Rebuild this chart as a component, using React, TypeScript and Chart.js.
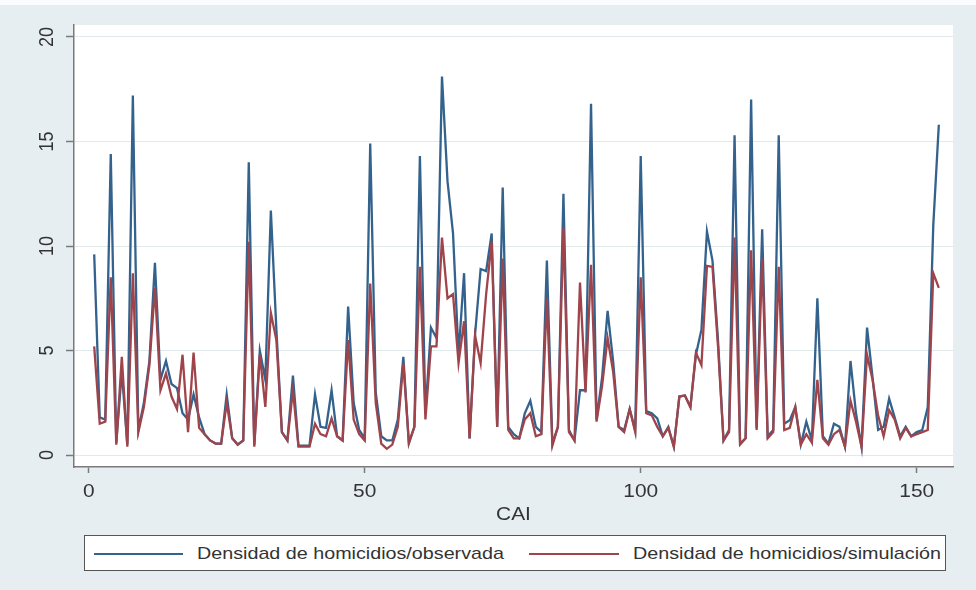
import React, { useEffect, useRef } from "react";
import { Chart, registerables } from "chart.js";

Chart.register(...registerables);

// CAI index (categories)
const caiIds: number[] = Array.from({ length: 154 }, (_, i) => i + 1);

const observada: number[] = [
  9.6, 1.8, 1.7, 14.4, 0.6, 4.0, 0.5, 17.2, 1.2, 2.5,
  4.5, 9.2, 3.6, 4.5, 3.4, 3.2, 2.0, 1.7, 2.9, 1.8,
  1.0, 0.7, 0.55, 0.55, 2.9, 0.8, 0.5, 0.7, 14.0, 0.5,
  5.0, 3.6, 11.7, 6.0, 1.1, 0.7, 3.8, 0.45, 0.45, 0.45,
  2.9, 1.35, 1.3, 3.1, 0.9, 0.7, 7.1, 2.5, 1.2, 0.8,
  14.9, 3.0, 0.9, 0.7, 0.7, 1.7, 4.7, 0.55, 1.35, 14.3,
  2.0, 6.1, 5.6, 18.1, 13.1, 10.6, 4.8, 8.7, 0.8, 5.8,
  8.9, 8.8, 10.6, 1.35, 12.8, 1.35, 1.0, 0.8, 2.0, 2.6,
  1.35, 1.1, 9.3, 0.55, 1.35, 12.5, 1.2, 0.7, 3.1, 3.1,
  16.8, 1.7, 3.7, 6.9, 4.5, 1.35, 1.2, 2.2, 1.2, 14.3,
  2.1, 2.0, 1.75, 0.9, 1.35, 0.4, 2.8, 2.85, 2.3, 4.8,
  6.0, 10.7, 9.3, 5.5, 0.7, 1.2, 15.3, 0.55, 0.8, 17.0,
  1.3, 10.8, 0.9, 1.2, 15.3, 1.5, 1.67, 2.3, 0.5, 1.6,
  0.7, 7.5, 0.9, 0.55, 1.5, 1.35, 0.4, 4.5, 2.0, 0.4,
  6.1, 3.7, 1.2, 1.35, 2.7, 1.8, 0.9, 1.35, 0.9, 1.1,
  1.2, 2.3, 11.0, 15.8,
];

const simulacion: number[] = [
  5.2, 1.5, 1.6, 8.5, 0.5, 4.7, 0.4, 8.7, 1.1, 2.3,
  4.3, 8.0, 3.1, 3.9, 2.8, 2.2, 4.8, 1.1, 4.9, 1.3,
  1.0, 0.7, 0.55, 0.55, 2.5, 0.8, 0.5, 0.7, 10.2, 0.4,
  4.8, 2.3, 6.8, 5.5, 1.1, 0.7, 3.1, 0.4, 0.4, 0.4,
  1.5, 1.0, 0.9, 1.75, 0.9, 0.7, 5.5, 1.7, 1.0, 0.7,
  8.2, 2.5, 0.55, 0.3, 0.5, 1.35, 4.4, 0.6, 1.35, 9.0,
  1.7, 5.2, 5.2, 10.4, 7.5, 7.7, 4.4, 6.4, 0.8, 5.7,
  4.4, 7.7, 10.2, 1.35, 9.4, 1.2, 0.8, 0.8, 1.7, 2.0,
  0.9, 1.0, 7.5, 0.45, 1.35, 10.9, 1.1, 0.7, 8.25, 3.0,
  9.1, 1.6, 3.3, 5.6, 4.0, 1.35, 1.1, 2.2, 1.1, 8.5,
  2.0, 1.9, 1.35, 0.9, 1.3, 0.4, 2.8, 2.85, 2.3, 4.9,
  4.3, 9.05, 9.0, 5.2, 0.7, 1.1, 10.4, 0.5, 0.8, 9.8,
  1.2, 9.4, 0.8, 1.1, 9.0, 1.2, 1.3, 2.3, 0.5, 1.0,
  0.6, 3.6, 0.8, 0.5, 1.0, 1.2, 0.4, 2.6, 1.6, 0.4,
  4.8, 3.6, 1.9, 0.9, 2.15, 1.7, 0.8, 1.3, 0.9, 1.0,
  1.1, 1.2, 8.7, 8.0,
];

const xTicks: number[] = [0, 50, 100, 150];
const yTicks: number[] = [0, 5, 10, 15, 20];
const xTitle = "CAI";
const seriesLabels: string[] = [
  "Densidad de homicidios/observada",
  "Densidad de homicidios/simulación",
];

const BLUE = "#33628c";
const RED = "#a0444b";
const BG = "#e7eef2";
const AXIS = "#7a7a7a";
const TEXT = "#333333";
const FONT = "'Liberation Sans', Arial, sans-serif";
const STRETCH = 1.16;

const bgPlugin = {
  id: "plotBg",
  beforeDraw(chart: any) {
    const { ctx, chartArea } = chart;
    ctx.save();
    ctx.fillStyle = "#ffffff";
    ctx.fillRect(chartArea.left, chartArea.top, chartArea.right - chartArea.left, chartArea.bottom - chartArea.top);
    ctx.restore();
  },
};

const textPlugin = {
  id: "axisText",
  afterDraw(chart: any) {
    const { ctx, scales, chartArea } = chart;
    ctx.save();
    ctx.fillStyle = TEXT;
    ctx.font = `18px ${FONT}`;
    ctx.textAlign = "center";
    ctx.textBaseline = "middle";
    yTicks.forEach((v) => {
      const py = scales.y.getPixelForValue(v);
      ctx.save();
      ctx.translate(chartArea.left - 27, py);
      ctx.scale(STRETCH, 1);
      ctx.rotate(-Math.PI / 2);
      ctx.fillText(String(v), 0, 0);
      ctx.restore();
    });
    xTicks.forEach((v) => {
      const px = scales.x.getPixelForValue(v);
      ctx.save();
      ctx.translate(px, chartArea.bottom + 25);
      ctx.scale(STRETCH, 1);
      ctx.fillText(String(v), 0, 0);
      ctx.restore();
    });
    ctx.save();
    ctx.translate((chartArea.left + chartArea.right) / 2, chartArea.bottom + 48);
    ctx.scale(STRETCH, 1);
    ctx.fillText(xTitle, 0, 0);
    ctx.restore();
    ctx.restore();
  },
};

export default function App() {
  const ref = useRef<HTMLCanvasElement>(null);

  useEffect(() => {
    const canvas = ref.current;
    if (!canvas) return;
    const chart = new Chart(canvas, {
      type: "line",
      data: {
        datasets: [
          {
            label: seriesLabels[0],
            data: caiIds.map((x, i) => ({ x, y: observada[i] })),
            borderColor: BLUE,
            backgroundColor: BLUE,
            borderWidth: 2.3,
            pointRadius: 0,
            tension: 0,
            order: 1,
          },
          {
            label: seriesLabels[1],
            data: caiIds.map((x, i) => ({ x, y: simulacion[i] })),
            borderColor: RED,
            backgroundColor: RED,
            borderWidth: 2.3,
            pointRadius: 0,
            tension: 0,
            order: 0,
          },
        ],
      },
      options: {
        responsive: false,
        animation: false,
        devicePixelRatio: 1,
        layout: { padding: { left: 0, right: 23, top: 25, bottom: 63 } },
        plugins: { legend: { display: false }, tooltip: { enabled: false } },
        scales: {
          x: {
            type: "linear",
            min: -2.66,
            max: 156.57,
            afterBuildTicks: (s: any) => {
              s.ticks = xTicks.map((v) => ({ value: v }));
            },
            afterFit: (s: any) => {
              s.height = 60;
            },
            ticks: { display: false },
            grid: {
              drawOnChartArea: false,
              drawTicks: true,
              tickLength: 6,
              tickColor: AXIS,
              tickWidth: 1.5,
            },
            border: { display: true, color: AXIS, width: 1.5 },
          },
          y: {
            type: "linear",
            min: -0.57,
            max: 20.57,
            afterBuildTicks: (s: any) => {
              s.ticks = yTicks.map((v) => ({ value: v }));
            },
            afterFit: (s: any) => {
              s.width = 74;
            },
            ticks: { display: false },
            grid: {
              drawOnChartArea: true,
              color: "#e1e9ed",
              lineWidth: 1,
              drawTicks: true,
              tickLength: 8,
              tickColor: AXIS,
              tickWidth: 1.5,
            },
            border: { display: true, color: AXIS, width: 1.5 },
          },
        },
      },
      plugins: [bgPlugin, textPlugin],
    } as any);
    return () => chart.destroy();
  }, []);

  const legendText: React.CSSProperties = {
    position: "absolute",
    top: 0,
    height: 37,
    lineHeight: "37px",
    fontFamily: FONT,
    fontSize: 17,
    color: TEXT,
    whiteSpace: "nowrap",
    transform: `scaleX(${STRETCH})`,
    transformOrigin: "left center",
  };

  return (
    <div
      style={{
        position: "absolute",
        left: 0,
        top: 0,
        width: 976,
        height: 590,
        background: BG,
        overflow: "hidden",
      }}
    >
      <div style={{ position: "absolute", left: 0, top: 0, width: 976, height: 5, background: "#fbfcfd" }} />
      <canvas ref={ref} width={976} height={590} style={{ position: "absolute", left: 0, top: 0 }} />
      <div
        style={{
          position: "absolute",
          left: 84,
          top: 535,
          width: 862,
          height: 36,
          background: "#ffffff",
          border: "1px solid #555",
          boxSizing: "border-box",
          overflow: "hidden",
        }}
      >
        <div style={{ position: "absolute", left: 9, top: 17, width: 89, height: 2, background: BLUE }} />
        <span style={{ ...legendText, left: 112, top: -1 }}>{seriesLabels[0]}</span>
        <div style={{ position: "absolute", left: 444, top: 17, width: 90, height: 2, background: RED }} />
        <span style={{ ...legendText, left: 548, top: -1 }}>{seriesLabels[1]}</span>
      </div>
    </div>
  );
}
